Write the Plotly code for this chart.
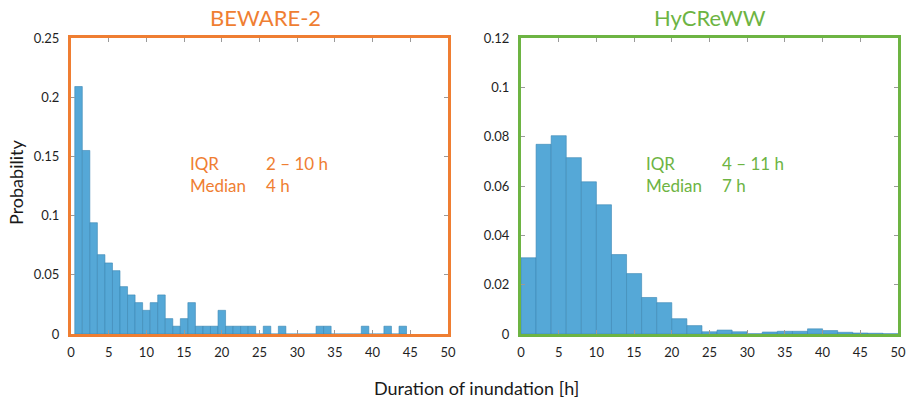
import plotly.graph_objects as go

# ---- data ----
beware_hours = list(range(1, 45))
beware_prob = [0.209, 0.155, 0.094, 0.067, 0.060, 0.0535, 0.040, 0.033, 0.0265, 0.020,
               0.0265, 0.033, 0.013, 0.0066, 0.013, 0.0265, 0.0066, 0.0066, 0.0066, 0.020,
               0.0066, 0.0066, 0.0066, 0.0066, 0.0, 0.0066, 0.0, 0.0066, 0.0, 0.0,
               0.0, 0.0, 0.0066, 0.0066, 0.0, 0.0, 0.0, 0.0, 0.0066, 0.0,
               0.0, 0.0066, 0.0, 0.0066]

hycreww_centers = list(range(1, 50, 2))
hycreww_prob = [0.0309, 0.0769, 0.0804, 0.0715, 0.0617, 0.0524, 0.0322, 0.0245, 0.0148, 0.0127,
                0.0062, 0.0034, 0.0009, 0.0016, 0.0009, 0.0001, 0.0008, 0.0011, 0.0011, 0.0021,
                0.0014, 0.0007, 0.0004, 0.0003, 0.0001]

x_ticks = [0, 5, 10, 15, 20, 25, 30, 35, 40, 45, 50]
left_y_ticks = [0, 0.05, 0.1, 0.15, 0.2, 0.25]
left_y_labels = ["0", "0.05", "0.1", "0.15", "0.2", "0.25"]
right_y_ticks = [0, 0.02, 0.04, 0.06, 0.08, 0.1, 0.12]
right_y_labels = ["0", "0.02", "0.04", "0.06", "0.08", "0.1", "0.12"]

titles = ["BEWARE-2", "HyCReWW"]
iqr_text = ["2 – 10 h", "4 – 11 h"]
median_text = ["4 h", "7 h"]

# ---- styling ----
ORANGE = "#EF7E32"
GREEN = "#6DB443"
BAR = "#55A8D7"
BAR_EDGE = "#3A86B4"
FONT = "Lato, 'Open Sans', sans-serif"
TICKFONT = dict(family=FONT, size=13, color="#1f1f1f")

W, H = 911, 401
def px_x(v):
    return v / W
def px_y(v):
    return 1 - v / H

fig = go.Figure()
fig.add_trace(go.Bar(x=beware_hours, y=beware_prob, width=1.0, xaxis="x", yaxis="y",
                     marker=dict(color=BAR, line=dict(color=BAR_EDGE, width=0.6)),
                     showlegend=False, hoverinfo="x+y"))
fig.add_trace(go.Bar(x=hycreww_centers, y=hycreww_prob, width=2.0, xaxis="x2", yaxis="y2",
                     marker=dict(color=BAR, line=dict(color=BAR_EDGE, width=0.6)),
                     showlegend=False, hoverinfo="x+y"))

ydom = [px_y(334), px_y(38)]

def xaxis(dom, color, anchor):
    return dict(domain=dom, range=[0, 50], tickvals=x_ticks, ticktext=[str(t) for t in x_ticks],
                ticks="inside", ticklen=4, tickcolor="#9a9a9a", tickwidth=1,
                showline=True, linecolor=color, linewidth=3, mirror="ticks",
                showgrid=False, zeroline=False, tickfont=TICKFONT, anchor=anchor,
                ticklabelstandoff=4, automargin=False)

def yaxis(rng, tv, tt, color, anchor):
    return dict(domain=ydom, range=rng, tickvals=tv, ticktext=tt,
                ticks="inside", ticklen=4, tickcolor="#9a9a9a", tickwidth=1,
                showline=True, linecolor=color, linewidth=3, mirror="ticks",
                showgrid=False, zeroline=False, tickfont=TICKFONT, anchor=anchor,
                ticklabelstandoff=6, automargin=False)

fig.update_layout(
    width=W, height=H,
    margin=dict(l=0, r=0, t=0, b=0, pad=0),
    paper_bgcolor="white", plot_bgcolor="white",
    bargap=0,
    xaxis=xaxis([px_x(71), px_x(448)], ORANGE, "y"),
    yaxis=yaxis([0, 0.25], left_y_ticks, left_y_labels, ORANGE, "x"),
    xaxis2=xaxis([px_x(521), px_x(898)], GREEN, "y2"),
    yaxis2=yaxis([0, 0.12], right_y_ticks, right_y_labels, GREEN, "x2"),
)

annotations = []
# titles
for cx, t, c in [(265, titles[0], ORANGE), (710, titles[1], GREEN)]:
    annotations.append(dict(x=px_x(cx), y=px_y(18), xref="paper", yref="paper", text=t,
                            showarrow=False, xanchor="center", yanchor="middle",
                            font=dict(family=FONT, size=22, color=c)))
# IQR / Median text
for (lx, vx, c, iq, md) in [(188, 264, ORANGE, iqr_text[0], median_text[0]),
                            (644, 720, GREEN, iqr_text[1], median_text[1])]:
    for (yy, lab, val) in [(163, "IQR", iq), (185, "Median", md)]:
        annotations.append(dict(x=px_x(lx), y=px_y(yy), xref="paper", yref="paper", text=lab,
                                showarrow=False, xanchor="left", yanchor="middle",
                                font=dict(family=FONT, size=17, color=c)))
        annotations.append(dict(x=px_x(vx), y=px_y(yy), xref="paper", yref="paper", text=val,
                                showarrow=False, xanchor="left", yanchor="middle",
                                font=dict(family=FONT, size=17, color=c)))
# axis labels
annotations.append(dict(x=px_x(476), y=px_y(388), xref="paper", yref="paper",
                        text="Duration of inundation [h]", showarrow=False,
                        xanchor="center", yanchor="middle",
                        font=dict(family=FONT, size=18, color="#1a1a1a")))
annotations.append(dict(x=px_x(16), y=px_y(183), xref="paper", yref="paper",
                        text="Probability", showarrow=False, textangle=-90,
                        xanchor="center", yanchor="middle",
                        font=dict(family=FONT, size=18, color="#1a1a1a")))
fig.update_layout(annotations=annotations)

fig.write_html("out.html",
               config={"displayModeBar": False, "staticPlot": True},
               post_script="document.body.style.margin='0px';document.body.style.overflow='hidden';")
